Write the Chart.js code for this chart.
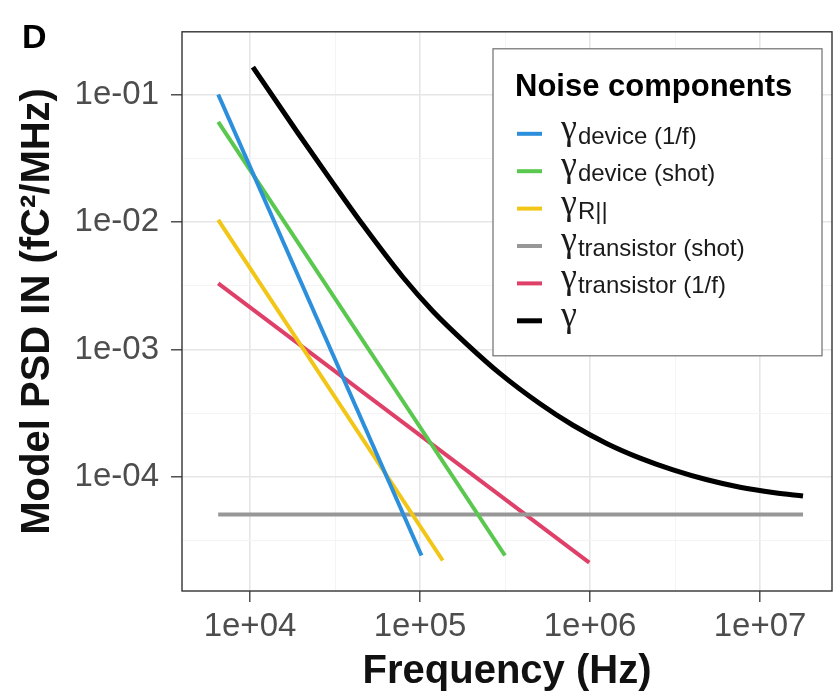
<!DOCTYPE html>
<html>
<head>
<meta charset="utf-8">
<script src="https://cdn.jsdelivr.net/npm/chart.js@4/dist/chart.umd.min.js"></script>
<style>
  html, body { margin: 0; padding: 0; background: #fff; }
  canvas { display: block; }
</style>
</head>
<body>
<canvas id="psdChart" width="834" height="698"></canvas>
<script>
// axis ticks (log decades, minor at half decades)
const xTickValues = [1e4, 1e5, 1e6, 1e7];
const xTickLabels = ['1e+04', '1e+05', '1e+06', '1e+07'];
const xMinorTicks = [3.162e4, 3.162e5, 3.162e6];
const yTickValues = [1e-4, 1e-3, 1e-2, 1e-1];
const yTickLabels = ['1e-04', '1e-03', '1e-02', '1e-01'];
const yMinorTicks = [3.162e-5, 3.162e-4, 3.162e-3, 3.162e-2];

// noise components
const freqDevice1f = [6.5e3, 1.02e5];
const psdDevice1f = [0.1, 2.43e-5];
const freqDeviceShot = [6.5e3, 3.16e5];
const psdDeviceShot = [0.061, 2.43e-5];
const freqR = [6.5e3, 1.36e5];
const psdR = [0.0104, 2.22e-5];
const freqTransShot = [6.5e3, 1.79e7];
const psdTransShot = [5.1e-5, 5.1e-5];
const freqTrans1f = [6.5e3, 9.9e5];
const psdTrans1f = [3.3e-3, 2.14e-5];
const freqTotal = [1.04e4, 1.89e4, 2.96e4, 4.62e4, 7.94e4, 1.19e5, 1.89e5, 2.96e5, 5.08e5,
                   7.94e5, 1.26e6, 1.97e6, 3.08e6, 4.88e6, 7.63e6, 1.22e7, 1.79e7];
const psdTotal = [0.164, 0.051, 0.0217, 0.00946, 0.00369, 0.0020, 0.0011, 6.48e-4, 3.76e-4,
                  2.55e-4, 1.83e-4, 1.41e-4, 1.14e-4, 9.53e-5, 8.33e-5, 7.55e-5, 7.11e-5];

const seriesNames = ['device (1/f)', 'device (shot)', 'R||', 'transistor (shot)', 'transistor (1/f)', ''];
const seriesColors = ['#2b8fdc', '#5ac84f', '#f2c616', '#979797', '#de4068', '#000000'];

const FONT = "'Liberation Sans', Arial, sans-serif";

function pts(xs, ys) {
    return xs.map((x, i) => ({ x: x, y: ys[i] }));
}

const seriesData = [
    pts(freqDevice1f, psdDevice1f),
    pts(freqDeviceShot, psdDeviceShot),
    pts(freqR, psdR),
    pts(freqTransShot, psdTransShot),
    pts(freqTrans1f, psdTrans1f),
    pts(freqTotal, psdTotal)
];

const datasets = seriesData.map((d, i) => ({
    label: seriesNames[i] || 'total',
    data: d,
    borderColor: seriesColors[i],
    backgroundColor: seriesColors[i],
    borderWidth: i === 5 ? 5 : 4,
    pointRadius: 0,
    cubicInterpolationMode: i === 5 ? 'monotone' : 'default',
    borderCapStyle: 'butt',
    order: i === 5 ? 0 : 1
}));

function sameVal(a, b) {
    return Math.abs(Math.log10(a) - Math.log10(b)) < 1e-6;
}

function setTicks(major, minor) {
    return scale => {
        const all = major.map(v => ({ value: v, major: true }))
            .concat(minor.map(v => ({ value: v, major: false })));
        all.sort((a, b) => a.value - b.value);
        scale.ticks = all;
    };
}

function labelFor(values, labels) {
    return v => {
        const i = values.findIndex(t => sameVal(t, v));
        return i >= 0 ? labels[i] : '';
    };
}

const gridOpts = {
    color: c => (c.tick && c.tick.major) ? '#e6e6e6' : '#f3f3f3',
    lineWidth: c => (c.tick && c.tick.major) ? 1.6 : 0.9,
    tickColor: c => (c.tick && c.tick.major) ? '#333333' : 'rgba(0,0,0,0)',
    tickLength: 11,
    tickWidth: 1.3,
    drawTicks: true
};

// panel border + "D" tag + legend
const decorPlugin = {
    id: 'decor',
    afterDatasetsDraw(chart) {
        const { ctx, chartArea: a } = chart;
        ctx.save();
        ctx.strokeStyle = '#333333';
        ctx.lineWidth = 1.4;
        ctx.strokeRect(a.left, a.top, a.right - a.left, a.bottom - a.top);
        ctx.restore();
    },
    afterDraw(chart) {
        const { ctx, chartArea: a } = chart;
        ctx.save();
        ctx.fillStyle = '#000';
        ctx.font = `bold 34px ${FONT}`;
        ctx.textBaseline = 'alphabetic';
        ctx.fillText('D', 22, 48);

        // legend box
        const lx = a.left + 311, ly = a.top + 17, lw = 329, lh = 307;
        ctx.fillStyle = '#fff';
        ctx.fillRect(lx, ly, lw, lh);
        ctx.strokeStyle = '#6e6e6e';
        ctx.lineWidth = 1.2;
        ctx.strokeRect(lx, ly, lw, lh);

        ctx.fillStyle = '#000';
        ctx.font = `bold 31px ${FONT}`;
        ctx.fillText('Noise components', lx + 22, ly + 47);

        seriesNames.forEach((name, i) => {
            const cy = ly + 85 + i * 37.4;
            ctx.strokeStyle = seriesColors[i];
            ctx.lineWidth = i === 5 ? 5 : 4;
            ctx.beginPath();
            ctx.moveTo(lx + 24, cy);
            ctx.lineTo(lx + 49, cy);
            ctx.stroke();

            ctx.fillStyle = '#1a1a1a';
            ctx.font = `36px 'Liberation Serif', serif`;
            ctx.fillText('γ', lx + 68, cy + 5);
            const gw = ctx.measureText('γ').width;
            if (name) {
                ctx.font = `24px ${FONT}`;
                ctx.fillText(name, lx + 68 + gw + 1, cy + 10);
            }
        });
        ctx.restore();
    }
};

new Chart(document.getElementById('psdChart'), {
    type: 'line',
    data: { datasets: datasets },
    plugins: [decorPlugin],
    options: {
        responsive: false,
        animation: false,
        devicePixelRatio: 1,
        layout: { padding: { top: 21, right: 2, left: 0, bottom: 0 } },
        plugins: { legend: { display: false }, tooltip: { enabled: false } },
        scales: {
            x: {
                type: 'logarithmic',
                min: 3981,
                max: 2.65e7,
                bounds: 'data',
                afterBuildTicks: setTicks(xTickValues, xMinorTicks),
                afterFit: s => { s.height = 107; },
                grid: gridOpts,
                border: { display: false },
                ticks: {
                    autoSkip: false,
                    maxRotation: 0,
                    padding: 5,
                    color: '#4d4d4d',
                    font: { family: FONT, size: 33 },
                    callback: labelFor(xTickValues, xTickLabels)
                },
                title: {
                    display: true,
                    text: 'Frequency (Hz)',
                    color: '#111',
                    font: { family: FONT, size: 40, weight: 'bold', lineHeight: 1 },
                    padding: { top: 0, bottom: 6 }
                }
            },
            y: {
                type: 'logarithmic',
                min: 1.28e-5,
                max: 0.31,
                bounds: 'data',
                afterBuildTicks: setTicks(yTickValues, yMinorTicks),
                afterFit: s => { s.width = 182; },
                grid: gridOpts,
                border: { display: false },
                ticks: {
                    autoSkip: false,
                    padding: 12,
                    color: '#4d4d4d',
                    font: { family: FONT, size: 33 },
                    callback: labelFor(yTickValues, yTickLabels)
                },
                title: {
                    display: true,
                    text: 'Model PSD IN (fC²/MHz)',
                    color: '#111',
                    font: { family: FONT, size: 40, weight: 'bold', lineHeight: 1 },
                    padding: { top: 18, bottom: 0 }
                }
            }
        }
    }
});
</script>
</body>
</html>
